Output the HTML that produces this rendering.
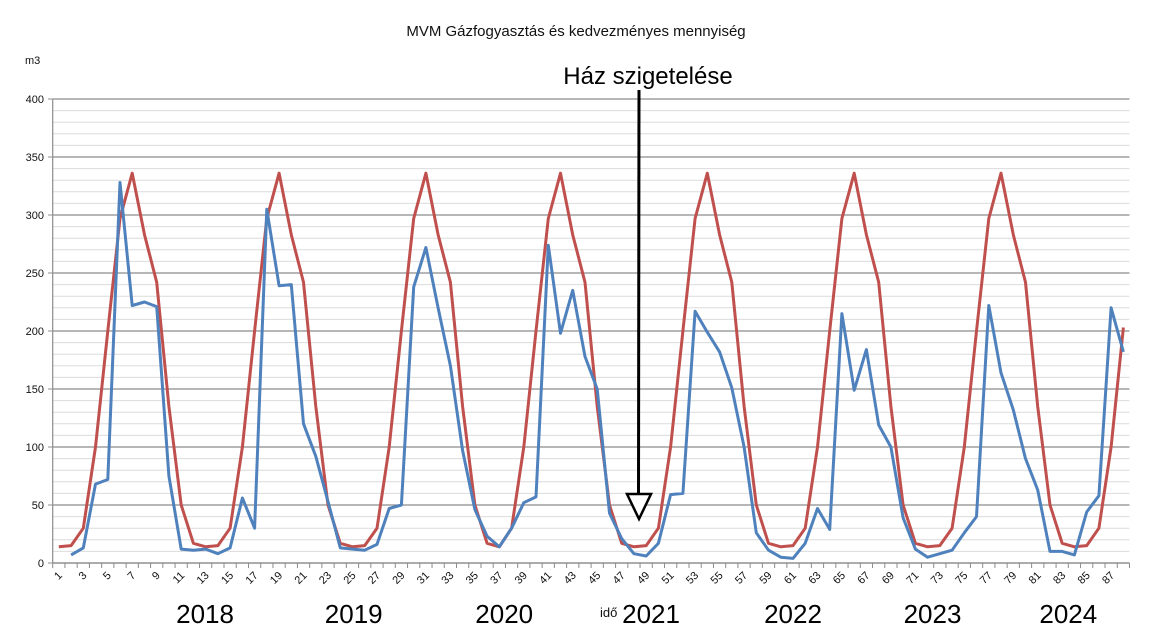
<!DOCTYPE html>
<html><head><meta charset="utf-8"><style>
html,body{margin:0;padding:0;background:#fff;}
svg{display:block;font-family:"Liberation Sans",sans-serif;}
</style></head><body>
<svg id="chart" width="1150" height="640" viewBox="0 0 1150 640" xmlns="http://www.w3.org/2000/svg">
<rect width="1150" height="640" fill="#fff"/>
<text x="576" y="36" font-size="15" text-anchor="middle" fill="#111">MVM Gázfogyasztás és kedvezményes mennyiség</text>
<text x="25" y="64" font-size="11" fill="#111">m3</text>
<g id="grid"></g><g id="axes"></g><g id="series"></g>
<text x="648" y="84" font-size="24" text-anchor="middle" fill="#000">Ház szigetelése</text>
<line x1="639" y1="90" x2="638.5" y2="495" stroke="#000" stroke-width="3"/>
<polygon points="627,494 651,494 639,519" fill="#fff" stroke="#000" stroke-width="2.5"/>
<text x="600" y="617" font-size="13" fill="#111">idő</text>
<g id="years" font-size="26" fill="#000" text-anchor="middle"></g>
</svg>
<script>
const categories = Array.from({length:88},(_,i)=>String(i+1));
const yTicks = [0,50,100,150,200,250,300,350,400];
const yearLabels = ["2018","2019","2020","2021","2022","2023","2024"];
const yearCenters = [11.95,24.1,36.4,48.4,60.0,71.4,82.5];
const consumption = [null,7,13,68,72,328,222,225,221,75,12,11,12,8,13,56,30,305,239,240,120,92,53,13,12,11,16,47,50,238,272,220,170,97,46,23,14,30,52,57,274,198,235,178,150,43,21,8,6,17,59,60,217,199,182,151,100,26,11,5,4,17,47,29,215,149,184,119,100,39,12,5,8,11,26,40,222,164,132,90,63,10,10,7,44,58,220,182];
const allowance = [14,15,30,100,200,297,336,283,242,135,50,17,14,15,30,100,200,297,336,283,242,135,50,17,14,15,30,100,200,297,336,283,242,135,50,17,14,30,100,200,297,336,283,242,135,50,17,14,15,30,100,200,297,336,283,242,135,50,17,14,15,30,100,200,297,336,283,242,135,50,17,14,15,30,100,200,297,336,283,242,135,50,17,14,15,30,100,203];

const NS="http://www.w3.org/2000/svg";
const L=52.7,R=1129.5,T=99,B=563,ymax=400;
const step=(R-L)/categories.length;
const xs=i=>L+(i+0.5)*step;
const ys=v=>B-(v/ymax)*(B-T);
function mk(tag,attrs,parent){const e=document.createElementNS(NS,tag);for(const k in attrs)e.setAttribute(k,attrs[k]);parent.appendChild(e);return e;}
const grid=document.getElementById('grid'),axes=document.getElementById('axes'),series=document.getElementById('series'),years=document.getElementById('years');
for(let v=0;v<=ymax;v+=10){
  const major=v%50===0;
  const ln=mk('line',{x1:L,x2:R,y1:ys(v),y2:ys(v),stroke:major?'#8c8c8c':'#dcdcdc','stroke-width':major?1.2:1},grid);
  
  
}
yTicks.forEach(v=>{
  const t=mk('text',{x:44,y:ys(v)+4,'font-size':11,'text-anchor':'end',fill:'#111'},axes);
  t.textContent=v;
  
  
  const tk=mk('line',{x1:48,x2:L,y1:ys(v),y2:ys(v),stroke:'#8c8c8c'},axes);
  
  
});
const ya=mk('line',{x1:L,x2:L,y1:T,y2:B,stroke:'#8c8c8c','stroke-width':1.2},axes);


const xa=mk('line',{x1:L,x2:R,y1:B,y2:B,stroke:'#8c8c8c','stroke-width':1.2},axes);


for(let i=0;i<=categories.length;i++){
  const tk=mk('line',{x1:L+i*step,x2:L+i*step,y1:B,y2:B+5,stroke:'#8c8c8c'},axes);
  
  
}
categories.forEach((c,i)=>{
  if(i%2!==0)return;
  const x=xs(i)+4,y=B+13;
  const t=mk('text',{x:x,y:y,'font-size':11,'text-anchor':'end',fill:'#111',transform:`rotate(-45 ${x} ${y})`},axes);
  t.textContent=c;
  
  
});
function line(data,color,name){
  let d='';let pen=false;
  data.forEach((v,i)=>{if(v==null){pen=false;return;}d+=(pen?'L':'M')+xs(i).toFixed(1)+' '+ys(v).toFixed(1)+' ';pen=true;});
  const p=mk('path',{d:d,fill:'none',stroke:color,'stroke-width':3,'stroke-linejoin':'round'},series);
  
  
}
line(allowance,'#c0504d','allowance-line');
line(consumption,'#4f81bd','consumption-line');
yearLabels.forEach((y,i)=>{
  const t=mk('text',{x:xs(yearCenters[i]),y:623},years);
  t.textContent=y;
  
  
});
</script>
</body></html>
